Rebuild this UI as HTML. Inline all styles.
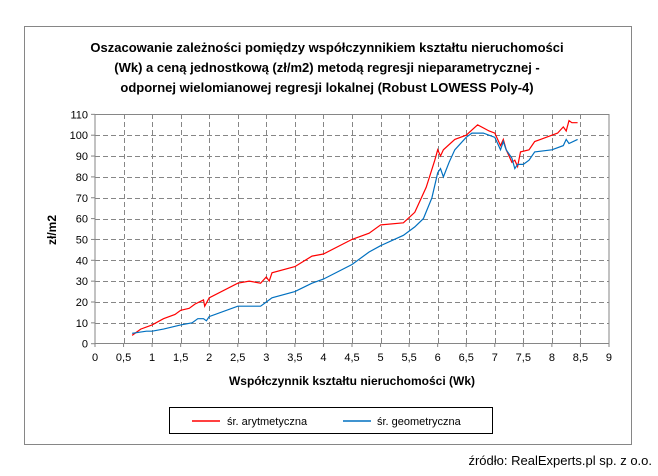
<!DOCTYPE html>
<html><head><meta charset="utf-8"><style>
body{margin:0;background:#fff;width:658px;height:471px;overflow:hidden}
svg text{font-family:"Liberation Sans",sans-serif}
</style></head><body>
<svg id="s" width="658" height="471" xmlns="http://www.w3.org/2000/svg">
<rect x="0" y="0" width="658" height="471" fill="#fff"/>
<rect x="24.5" y="26.5" width="607" height="418" fill="#fff" stroke="#868686" stroke-width="1"/>
<g font-size="13" font-weight="bold" text-anchor="middle" fill="#000">
<text x="327" y="52">Oszacowanie zależności pomiędzy współczynnikiem kształtu nieruchomości</text>
<text x="327" y="72">(Wk) a ceną jednostkową (zł/m2) metodą regresji nieparametrycznej -</text>
<text x="327" y="92">odpornej wielomianowej regresji lokalnej (Robust LOWESS Poly-4)</text>
</g>
<g id="grid" stroke="#868686" stroke-dasharray="5,3" stroke-width="1"></g>
<rect x="95" y="114.5" width="514" height="229" fill="none" stroke="#868686"/>
<g id="lab" font-size="11" fill="#000"></g>
<text x="352" y="385" font-size="12" font-weight="bold" text-anchor="middle">Współczynnik  kształtu nieruchomości (Wk)</text>
<text transform="translate(56,230) rotate(-90)" font-size="12" font-weight="bold" text-anchor="middle">zł/m2</text>
<polyline id="red" fill="none" stroke="#ff0000" stroke-width="1.2"/>
<polyline id="blue" fill="none" stroke="#0070c0" stroke-width="1.2"/>
<rect x="169.5" y="407.5" width="323" height="26" fill="#fff" stroke="#000"/>
<line x1="192" y1="421" x2="220" y2="421" stroke="#ff0000" stroke-width="1.5"/>
<text x="227" y="425" font-size="11">śr. arytmetyczna</text>
<line x1="343" y1="421" x2="371" y2="421" stroke="#0070c0" stroke-width="1.5"/>
<text x="377" y="425" font-size="11">śr. geometryczna</text>
<text x="652" y="465" font-size="13" text-anchor="end">źródło: RealExperts.pl sp. z o.o.</text>
</svg>
<script>
var X=v=>95+v*57.11, Y=v=>343.7-v*2.085;
var g=document.getElementById('grid'),l=document.getElementById('lab'),ns="http://www.w3.org/2000/svg";
function el(p,t,a,tx){var e=document.createElementNS(ns,t);for(var k in a)e.setAttribute(k,a[k]);if(tx!=null)e.textContent=tx;p.appendChild(e);}
for(var i=1;i<18;i++){var x=Math.round(X(i/2))+.5;el(g,'line',{x1:x,y1:114,x2:x,y2:343});}
for(var j=1;j<11;j++){var y=Math.round(Y(j*10))+.5;el(g,'line',{x1:95,y1:y,x2:609,y2:y});}
for(var i=0;i<=18;i++){var x=X(i/2);el(l,'text',{x:x,y:361,'text-anchor':'middle'},String(i/2).replace('.',','));el(l,'line',{x1:x,y1:343,x2:x,y2:347,stroke:'#868686'});}
for(var j=0;j<=11;j++){var y=Y(j*10);el(l,'text',{x:88,y:y+4,'text-anchor':'end'},String(j*10));el(l,'line',{x1:91,y1:y,x2:95,y2:y,stroke:'#868686'});}
var R=[[0.65,4],[0.8,7],[1,9],[1.2,12],[1.4,14],[1.5,16],[1.65,17],[1.75,19],[1.9,21],[1.92,18],[2,22],[2.5,29],[2.7,30],[2.9,29],[3,32],[3.05,30],[3.1,34],[3.5,37],[3.8,42],[4,43],[4.5,50],[4.8,53],[5,57],[5.4,58],[5.6,63],[5.8,75],[5.95,88],[6,93],[6.05,90],[6.1,93],[6.3,98],[6.5,100],[6.7,105],[6.9,102],[7,101],[7.1,95],[7.15,98],[7.2,93],[7.3,87],[7.35,88],[7.4,85],[7.45,92],[7.6,93],[7.7,97],[7.8,98],[8,100],[8.1,101],[8.2,104],[8.25,102],[8.3,107],[8.35,106],[8.45,106]];
var B=[[0.65,5],[0.9,6],[1,6],[1.2,7],[1.5,9],[1.7,10],[1.8,12],[1.9,12],[1.95,11],[2,13],[2.5,18],[2.9,18],[3,20],[3.1,22],[3.5,25],[3.8,29],[4,31],[4.5,38],[4.8,44],[5,47],[5.4,52],[5.6,56],[5.75,60],[5.9,70],[6,82],[6.05,84],[6.1,80],[6.2,87],[6.3,93],[6.5,99],[6.6,101],[6.8,101],[7,99],[7.1,93],[7.15,97],[7.2,93],[7.3,89],[7.35,84],[7.4,86],[7.5,86],[7.6,88],[7.7,92],[8,93],[8.2,95],[8.25,98],[8.3,96],[8.45,98]];
function pts(a){return a.map(p=>X(p[0]).toFixed(1)+','+Y(p[1]).toFixed(1)).join(' ');}
document.getElementById('red').setAttribute('points',pts(R));
document.getElementById('blue').setAttribute('points',pts(B));
</script>
</body></html>
